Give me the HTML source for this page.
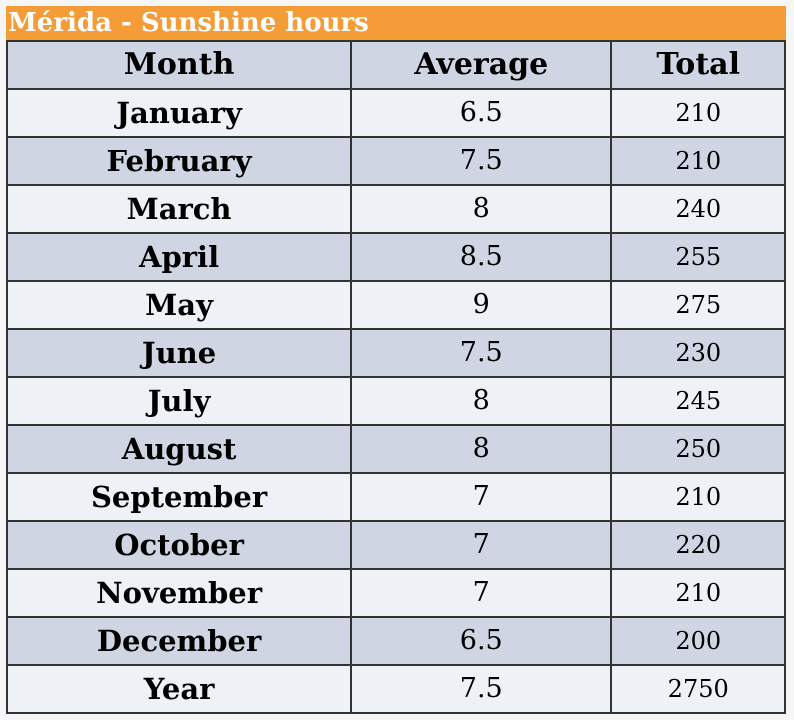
<!DOCTYPE html>
<html><head><meta charset="utf-8"><style>
body{margin:0;background:#f6f6f6;width:794px;height:720px;overflow:hidden;font-family:"DejaVu Serif","Liberation Serif",serif;}
.title{position:absolute;left:6px;top:6px;width:780px;height:34px;background:#f39c38;color:#fff;font-weight:bold;font-size:26px;line-height:34px;padding-left:2px;box-sizing:border-box;white-space:nowrap}
table{position:absolute;left:6px;top:40px;border-collapse:collapse;width:780px}
tr{height:48px}
td,th{border:2px solid #333;height:46px;padding:0;text-align:center;font-size:27px;line-height:30px;color:#000;overflow:hidden}
th{font-weight:bold;font-size:30px}
td:first-child{font-weight:bold;font-size:29px}
td:nth-child(3){font-size:24px}
tr:nth-child(even){background:#eef1f5}
tr:nth-child(odd){background:#cfd5e2}
</style></head><body>
<div class="title">Mérida - Sunshine hours</div>
<table>
<colgroup><col style="width:345px"><col style="width:261px"><col style="width:174px"></colgroup>
<tr><th>Month</th><th>Average</th><th>Total</th></tr>
<tr><td>January</td><td>6.5</td><td>210</td></tr>
<tr><td>February</td><td>7.5</td><td>210</td></tr>
<tr><td>March</td><td>8</td><td>240</td></tr>
<tr><td>April</td><td>8.5</td><td>255</td></tr>
<tr><td>May</td><td>9</td><td>275</td></tr>
<tr><td>June</td><td>7.5</td><td>230</td></tr>
<tr><td>July</td><td>8</td><td>245</td></tr>
<tr><td>August</td><td>8</td><td>250</td></tr>
<tr><td>September</td><td>7</td><td>210</td></tr>
<tr><td>October</td><td>7</td><td>220</td></tr>
<tr><td>November</td><td>7</td><td>210</td></tr>
<tr><td>December</td><td>6.5</td><td>200</td></tr>
<tr><td>Year</td><td>7.5</td><td>2750</td></tr>
</table>
</body></html>
